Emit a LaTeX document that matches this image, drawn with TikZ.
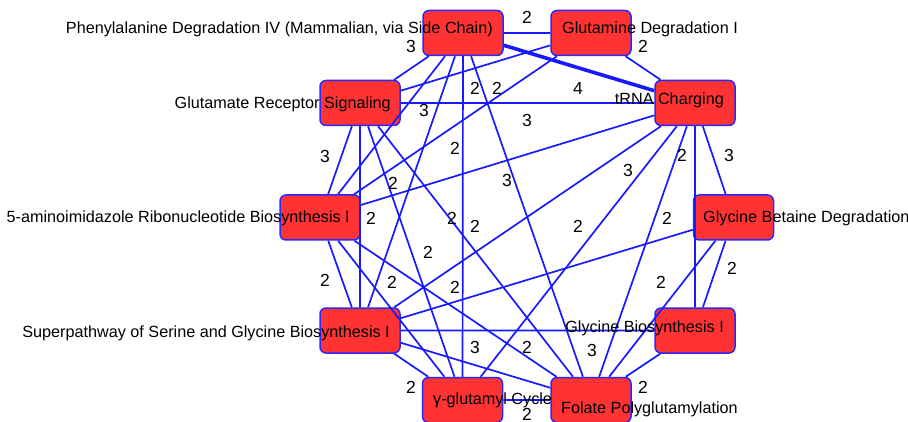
\documentclass[tikz,border=0pt]{standalone}
\usepackage{fontspec}
\setmainfont{Liberation Sans}
\definecolor{boxred}{RGB}{255,51,51}
\definecolor{rimblue}{RGB}{40,40,255}
\definecolor{edgeblue}{RGB}{25,25,255}

\begin{document}
\begin{tikzpicture}[x=1pt,y=-1pt,
    box/.style={draw=rimblue,fill=boxred,line width=1.5pt,rounded corners=6pt,
                minimum width=80pt,minimum height=45pt,inner sep=0pt},
    link/.style={edgeblue,line width=1.7pt},
    plabel/.style={inner sep=0pt,font=\fontsize{16.2}{19}\selectfont},
    wt/.style={inner sep=0pt,font=\fontsize{17.5}{20}\selectfont}]
    \clip (0,0) rectangle (908,422);
    % pathway boxes
    \node[box] (P) at (463,33) {};
    \node[box] (GD) at (591,33) {};
    \node[box] (T) at (695,103) {};
    \node[box] (GR) at (360,103) {};
    \node[box] (A) at (320,217.5) {};
    \node[box] (GB) at (733.5,217.5) {};
    \node[box] (S) at (360,330.5) {};
    \node[box] (GBI) at (695,330.5) {};
    \node[box] (GC) at (462.5,400) {};
    \node[box] (F) at (591,400) {};
    %
    \draw[link] (P) -- (GD) (P) -- (GR) (P) -- (A) (P) -- (S) (P) -- (GC) (P) -- (F);
    \draw[link,line width=3.6pt] (P) -- (T);
    \draw[link] (GD) -- (T) (GD) -- (GR) (GD) -- (A);
    \draw[link] (GR) -- (T) (GR) -- (A) (GR) -- (S) (GR) -- (GC) (GR) -- (F);
    \draw[link] (A) -- (T) (A) -- (S) (A) -- (GC) (A) -- (F);
    \draw[link] (T) -- (S) (T) -- (GC) (T) -- (F) (T) -- (GBI) (T) -- (GB);
    \draw[link] (GB) -- (GBI) (GB) -- (F) (GB) -- (S);
    \draw[link] (S) -- (GBI) (S) -- (F) (S) -- (GC);
    \draw[link] (GC) -- (F) (GBI) -- (F);
    %
    \node[plabel,anchor=base east] (Pt) at (493,34) {Phenylalanine Degradation IV (Mammalian, via Side Chain)};
    \node[plabel,anchor=base west] (GDt) at (562,34) {Glutamine Degradation I};
    \node[plabel,anchor=base east] (Tt) at (724,105) {tRNA Charging};
    \node[plabel,anchor=base east] (GRt) at (391,109) {Glutamate Receptor Signaling};
    \node[plabel,anchor=base east] (At) at (350,223) {5-aminoimidazole Ribonucleotide Biosynthesis I};
    \node[plabel,anchor=base west] (GBt) at (703,223) {Glycine Betaine Degradation};
    \node[plabel,anchor=base east] (St) at (390,337) {Superpathway of Serine and Glycine Biosynthesis I};
    \node[plabel,anchor=base east] (GBIt) at (724,332) {Glycine Biosynthesis I};
    \node[plabel,anchor=base west] (GCt) at (433,404) {γ-glutamyl Cycle};
    \node[plabel,anchor=base west] (Ft) at (561,413) {Folate Polyglutamylation};
    %
    \node[wt] (w1) at (527,17) {2};
    \node[wt] (w2) at (411,46) {3};
    \node[wt] (w3) at (643,46) {2};
    \node[wt] (w4) at (475,88) {2};
    \node[wt] (w5) at (497,88) {2};
    \node[wt] (w6) at (578,88) {4};
    \node[wt] (w7) at (424,110) {3};
    \node[wt] (w8) at (527,120) {3};
    \node[wt] (w9) at (325,156) {3};
    \node[wt] (w10) at (455,148) {2};
    \node[wt] (w11) at (682,155) {2};
    \node[wt] (w12) at (729,155) {3};
    \node[wt] (w13) at (393,183) {2};
    \node[wt] (w14) at (507,180) {3};
    \node[wt] (w15) at (628,170) {3};
    \node[wt] (w16) at (371,218) {2};
    \node[wt] (w17) at (452,218) {2};
    \node[wt] (w18) at (475,226) {2};
    \node[wt] (w19) at (578,226) {2};
    \node[wt] (w20) at (667,218) {2};
    \node[wt] (w21) at (428,252) {2};
    \node[wt] (w22) at (732,268) {2};
    \node[wt] (w23) at (325,280) {2};
    \node[wt] (w24) at (392,282) {2};
    \node[wt] (w25) at (455,287) {2};
    \node[wt] (w26) at (661,282) {2};
    \node[wt] (w27) at (475,347) {3};
    \node[wt] (w28) at (527,347) {2};
    \node[wt] (w29) at (592,350) {3};
    \node[wt] (w30) at (411,387) {2};
    \node[wt] (w31) at (527,414) {2};
    \node[wt] (w32) at (643,387) {2};
\end{tikzpicture}
\end{document}
